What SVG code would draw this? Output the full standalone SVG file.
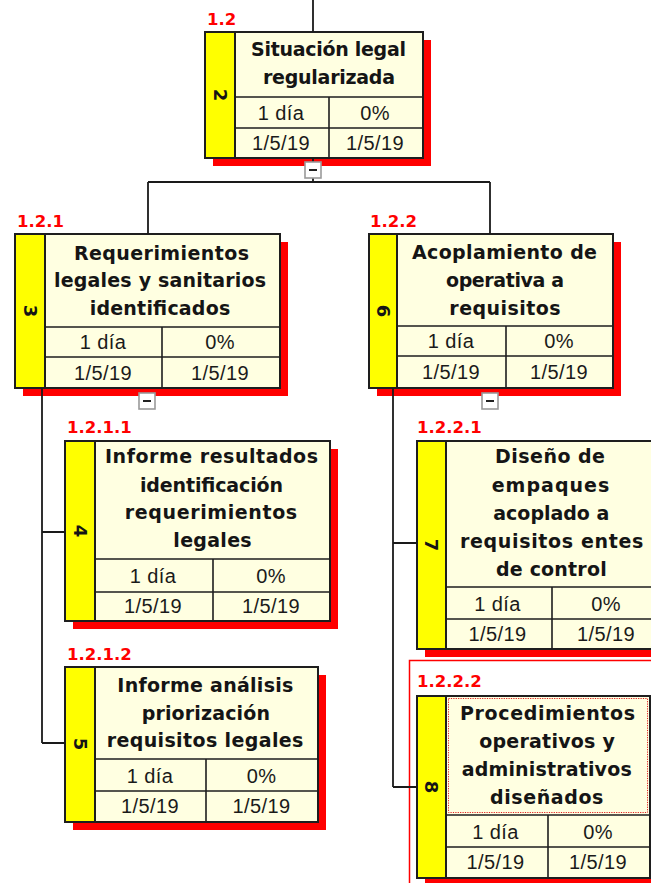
<svg xmlns="http://www.w3.org/2000/svg" width="651" height="883" viewBox="0 0 651 883">
<style>
.bg{fill:#ffffff}
.sh{fill:#ff0000}
.box{fill:#ffffe1;stroke:#1e1e1e;stroke-width:2}
.strip{fill:#ffff00;stroke:#1e1e1e;stroke-width:2}
.grid{stroke:#1e1e1e;stroke-width:1.6;fill:none}
.t{font-family:"DejaVu Sans",Verdana,sans-serif;font-weight:bold;font-size:19px;fill:#151515;text-anchor:middle}
.c{font-family:"Liberation Sans",Arial,sans-serif;font-size:20px;letter-spacing:0.4px;fill:#1a1a1a;text-anchor:middle}
.lbl{font-family:"DejaVu Sans",Verdana,sans-serif;font-weight:bold;font-size:16.5px;fill:#ff0000}
.num{font-family:"DejaVu Sans",Verdana,sans-serif;font-weight:bold;font-size:18px;fill:#151515;text-anchor:middle;dominant-baseline:central}
.conn{stroke:#1a1a1a;stroke-width:1.8;fill:none}
.tg{fill:#ffffff;stroke:#9a9a9a;stroke-width:1.6}
.tgm{stroke:#222;stroke-width:2}
.sel{fill:none;stroke:#ff0000;stroke-width:1.5}
.dot{fill:none;stroke:#e02020;stroke-width:1;stroke-dasharray:1.2 1.2}
</style>
<rect class="bg" x="0" y="0" width="651" height="883"/>

<g id="node-1.2">
<text class="lbl" x="207" y="25">1.2</text>
<rect class="sh" x="213" y="40" width="218" height="126"/>
<rect class="box" x="205" y="32" width="218" height="126"/>
<rect class="strip" x="205" y="32" width="30" height="126"/>
<path class="grid" d="M235 97H423M235 128H423M329 97V158"/>
<text class="num" x="220" y="95" transform="rotate(90 220 95)">2</text>
<text class="t" x="328.5" y="56" textLength="155" lengthAdjust="spacing">Situación legal</text>
<text class="t" x="329" y="84" textLength="132" lengthAdjust="spacing">regularizada</text>
<text class="c" x="281" y="119.5">1 día</text>
<text class="c" x="375" y="119.5">0%</text>
<text class="c" x="281" y="149.5">1/5/19</text>
<text class="c" x="375" y="149.5">1/5/19</text>
</g>

<g id="node-1.2.1">
<text class="lbl" x="17" y="227">1.2.1</text>
<rect class="sh" x="23" y="242" width="265" height="154"/>
<rect class="box" x="15" y="234" width="265" height="154"/>
<rect class="strip" x="15" y="234" width="30" height="154"/>
<path class="grid" d="M45 327H280M45 357H280M162 327V388"/>
<text class="num" x="30" y="311" transform="rotate(90 30 311)">3</text>
<text class="t" x="161.5" y="259.5" textLength="175" lengthAdjust="spacing">Requerimientos</text>
<text class="t" x="160" y="287.3" textLength="212" lengthAdjust="spacing">legales y sanitarios</text>
<text class="t" x="160" y="315" textLength="140.5" lengthAdjust="spacing">identificados</text>
<text class="c" x="103" y="349">1 día</text>
<text class="c" x="220" y="349">0%</text>
<text class="c" x="103" y="379.5">1/5/19</text>
<text class="c" x="220" y="379.5">1/5/19</text>
</g>

<g id="node-1.2.2">
<text class="lbl" x="370" y="227">1.2.2</text>
<rect class="sh" x="377" y="242" width="244" height="154"/>
<rect class="box" x="369" y="234" width="244" height="154"/>
<rect class="strip" x="369" y="234" width="28" height="154"/>
<path class="grid" d="M397 326H613M397 356H613M506 326V388"/>
<text class="num" x="383" y="311" transform="rotate(90 383 311)">6</text>
<text class="t" x="504.5" y="259.3" textLength="185" lengthAdjust="spacing">Acoplamiento de</text>
<text class="t" x="505" y="287" textLength="118" lengthAdjust="spacing">operativa a</text>
<text class="t" x="505" y="315" textLength="111.3" lengthAdjust="spacing">requisitos</text>
<text class="c" x="451" y="348">1 día</text>
<text class="c" x="559" y="348">0%</text>
<text class="c" x="451" y="379">1/5/19</text>
<text class="c" x="559" y="379">1/5/19</text>
</g>

<g id="node-1.2.1.1">
<text class="lbl" x="67" y="433">1.2.1.1</text>
<rect class="sh" x="73" y="449" width="265" height="180"/>
<rect class="box" x="65" y="441" width="265" height="180"/>
<rect class="strip" x="65" y="441" width="30" height="180"/>
<path class="grid" d="M95 559H330M95 592H330M213 559V621"/>
<text class="num" x="80" y="531" transform="rotate(90 80 531)">4</text>
<text class="t" x="211.5" y="463.3" textLength="213" lengthAdjust="spacing">Informe resultados</text>
<text class="t" x="211.5" y="491.7" textLength="143" lengthAdjust="spacing">identificación</text>
<text class="t" x="211" y="519" textLength="172.3" lengthAdjust="spacing">requerimientos</text>
<text class="t" x="212.5" y="546.7" textLength="78.3" lengthAdjust="spacing">legales</text>
<text class="c" x="153" y="582.5">1 día</text>
<text class="c" x="271" y="582.5">0%</text>
<text class="c" x="153" y="612.5">1/5/19</text>
<text class="c" x="271" y="612.5">1/5/19</text>
</g>

<g id="node-1.2.1.2">
<text class="lbl" x="67" y="660">1.2.1.2</text>
<rect class="sh" x="73" y="675" width="253" height="155"/>
<rect class="box" x="65" y="667" width="253" height="155"/>
<rect class="strip" x="65" y="667" width="30" height="155"/>
<path class="grid" d="M95 759H318M95 791H318M206 759V822"/>
<text class="num" x="80" y="744" transform="rotate(90 80 744)">5</text>
<text class="t" x="205.3" y="691.7" textLength="176" lengthAdjust="spacing">Informe análisis</text>
<text class="t" x="205.8" y="720" textLength="128.3" lengthAdjust="spacing">priorización</text>
<text class="t" x="205" y="747.3" textLength="196.7" lengthAdjust="spacing">requisitos legales</text>
<text class="c" x="150" y="782.5">1 día</text>
<text class="c" x="261.5" y="782.5">0%</text>
<text class="c" x="150" y="812.5">1/5/19</text>
<text class="c" x="261.5" y="812.5">1/5/19</text>
</g>

<g id="node-1.2.2.1">
<text class="lbl" x="417" y="433">1.2.2.1</text>
<rect class="sh" x="425" y="449" width="241" height="208"/>
<rect class="box" x="417" y="441" width="241" height="208"/>
<rect class="strip" x="417" y="441" width="29" height="208"/>
<path class="grid" d="M446 587H658M446 619H658M552 587V649"/>
<text class="num" x="431.5" y="545" transform="rotate(90 431.5 545)">7</text>
<text class="t" x="550" y="463.3" textLength="110" lengthAdjust="spacing">Diseño de</text>
<text class="t" x="550.5" y="491.5" textLength="117.7" lengthAdjust="spacing">empaques</text>
<text class="t" x="551.3" y="520" textLength="116" lengthAdjust="spacing">acoplado a</text>
<text class="t" x="551.7" y="548.3" textLength="183.3" lengthAdjust="spacing">requisitos entes</text>
<text class="t" x="551.3" y="575.7" textLength="110.7" lengthAdjust="spacing">de control</text>
<text class="c" x="497.5" y="610.5">1 día</text>
<text class="c" x="606" y="610.5">0%</text>
<text class="c" x="497.5" y="640.5">1/5/19</text>
<text class="c" x="606" y="640.5">1/5/19</text>
</g>

<g id="node-1.2.2.2">
<rect class="sel" x="409.5" y="660.5" width="260" height="240"/>
<text class="lbl" x="417" y="687">1.2.2.2</text>
<rect class="sh" x="425" y="704" width="233" height="182"/>
<rect class="box" x="417" y="696" width="233" height="182"/>
<rect class="strip" x="417" y="696" width="29" height="182"/>
<path class="grid" d="M446 815H650M446 847H650M548 815V878"/>
<rect class="dot" x="448.5" y="698.5" width="199" height="114"/>
<text class="num" x="431.5" y="787" transform="rotate(90 431.5 787)">8</text>
<text class="t" x="547.5" y="720" textLength="175" lengthAdjust="spacing">Procedimientos</text>
<text class="t" x="547" y="748.3" textLength="135.7" lengthAdjust="spacing">operativos y</text>
<text class="t" x="546.7" y="776" textLength="170" lengthAdjust="spacing">administrativos</text>
<text class="t" x="546.7" y="804" textLength="113.3" lengthAdjust="spacing">diseñados</text>
<text class="c" x="495.5" y="839">1 día</text>
<text class="c" x="598" y="839">0%</text>
<text class="c" x="495.5" y="869">1/5/19</text>
<text class="c" x="598" y="869">1/5/19</text>
</g>

<g id="connectors">
<path class="conn" d="M313 0V32M313 158V182M148 182H490M148 182V234M490 182V234M42 388V743M42 532H65M42 743H65M393 388V787M393 543H417M393 787H417"/>
</g>

<g id="toggles">
<rect class="tg" x="305" y="162" width="16" height="16"/>
<path class="tgm" d="M309 170H317"/>
<rect class="tg" x="139" y="393" width="16" height="16"/>
<path class="tgm" d="M143 401H151"/>
<rect class="tg" x="482" y="393" width="16" height="16"/>
<path class="tgm" d="M486 401H494"/>
</g>
</svg>
